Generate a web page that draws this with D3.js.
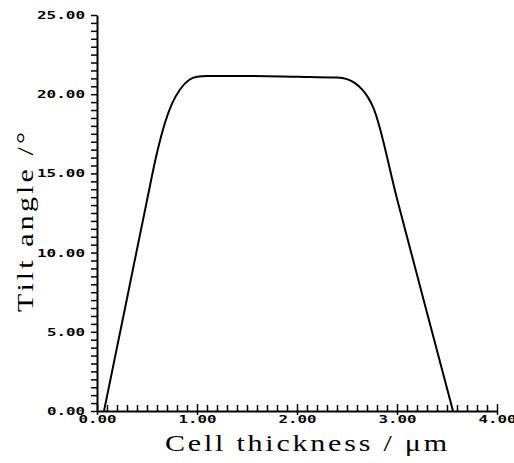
<!DOCTYPE html>
<html>
<head>
<meta charset="utf-8">
<script src="https://cdn.jsdelivr.net/npm/d3@7"></script>
<style>
  body { margin: 0; background: #fff; }
  .tick-label { font-family: "DejaVu Sans Mono", monospace; font-weight: bold; font-size: 11px; fill: #000; }
  .title { font-family: "Liberation Serif", "DejaVu Serif", serif; font-size: 24px; fill: #000; }
</style>
</head>
<body>
<div id="chart"></div>
<script>
// chart size and plot box
const WIDTH = 514;
const HEIGHT = 463;
const MARGIN = { left: 97, top: 15, right: 17, bottom: 52 };
const TITLE_STRETCH = 1.25;

// curve: cell thickness (um) vs tilt angle (deg)
const thickness = [0.07, 0.30, 0.50, 0.60, 0.68, 0.75, 0.83, 0.92, 1.00, 1.10, 1.50, 2.00, 2.40, 2.50, 2.58, 2.65, 2.71, 2.76, 3.00, 3.30, 3.56];
const tiltAngle = [0.0, 7.1, 13.3, 16.3, 18.2, 19.4, 20.3, 20.9, 21.1, 21.15, 21.15, 21.1, 21.05, 20.95, 20.7, 20.3, 19.8, 19.2, 13.4, 6.2, 0.0];

// axes
const xTicks = d3.range(0, 41).map((d) => d / 10);
const xLabels = [0, 1, 2, 3, 4];
const yTicks = d3.range(0, 51).map((d) => d / 2);
const yLabels = [0, 5, 10, 15, 20, 25];

const xTitle = "Cell thickness / \u03bcm";
const yTitle = "Tilt angle /\u00b0";

const fmt = d3.format(".2f");

let svg = d3
  .select("#chart")
  .append("svg")
  .attr("width", WIDTH)
  .attr("height", HEIGHT);

let x = d3.scaleLinear().domain([0, 4]).range([MARGIN.left, WIDTH - MARGIN.right]);
let y = d3.scaleLinear().domain([0, 25]).range([HEIGHT - MARGIN.bottom, MARGIN.top]);

// x axis, small ticks pointing up
let xAxis = d3
  .axisBottom(x)
  .tickValues(xTicks)
  .tickSizeInner(-6)
  .tickSizeOuter(0)
  .tickPadding(4)
  .tickFormat((d) => (xLabels.some((v) => Math.abs(v - d) < 1e-6) ? fmt(d) : ""));

let gx = svg
  .append("g")
  .attr("transform", "translate(0," + (HEIGHT - MARGIN.bottom) + ")")
  .call(xAxis);

// y axis, small ticks pointing left
let yAxis = d3
  .axisLeft(y)
  .tickValues(yTicks)
  .tickSizeInner(6)
  .tickSizeOuter(0)
  .tickPadding(6)
  .tickFormat((d) => (yLabels.some((v) => Math.abs(v - d) < 1e-6) ? fmt(d) : ""));

let gy = svg
  .append("g")
  .attr("transform", "translate(" + MARGIN.left + ",0)")
  .call(yAxis);

// plotter look: black strokes, wide spaced labels
svg.selectAll(".domain").attr("stroke", "#000").attr("stroke-width", 2);
svg.selectAll(".tick line").attr("stroke", "#000").attr("stroke-width", 1.5);
svg
  .selectAll(".tick text")
  .attr("class", "tick-label")
  .attr("font-family", null)
  .attr("font-size", null)
  .each(function () {
    let t = d3.select(this);
    let s = t.text();
    if (s) t.attr("textLength", s.length * 10 - 2).attr("lengthAdjust", "spacingAndGlyphs");
  });

// label ticks cross the x axis a bit
gx.selectAll(".tick")
  .filter((d) => xLabels.some((v) => Math.abs(v - d) < 1e-6))
  .select("line")
  .attr("y2", -7)
  .attr("y1", 4);

// the curve
let pts = thickness.map((t, i) => [t, tiltAngle[i]]);
let line = d3
  .line()
  .x((d) => x(d[0]))
  .y((d) => y(d[1]))
  .curve(d3.curveMonotoneX);

svg
  .append("path")
  .datum(pts)
  .attr("fill", "none")
  .attr("stroke", "#000")
  .attr("stroke-width", 2)
  .attr("d", line);

// axis titles (wide plotter lettering: stretched a bit, then spaced out)
svg
  .append("text")
  .attr("class", "title")
  .attr("transform", `translate(165,451) scale(${TITLE_STRETCH},1)`)
  .attr("textLength", 282 / TITLE_STRETCH)
  .attr("lengthAdjust", "spacing")
  .text(xTitle);

svg
  .append("text")
  .attr("class", "title")
  .attr("transform", `translate(33,312) rotate(-90) scale(${TITLE_STRETCH},1)`)
  .attr("textLength", 180 / TITLE_STRETCH)
  .attr("lengthAdjust", "spacing")
  .text(yTitle);
</script>
</body>
</html>
